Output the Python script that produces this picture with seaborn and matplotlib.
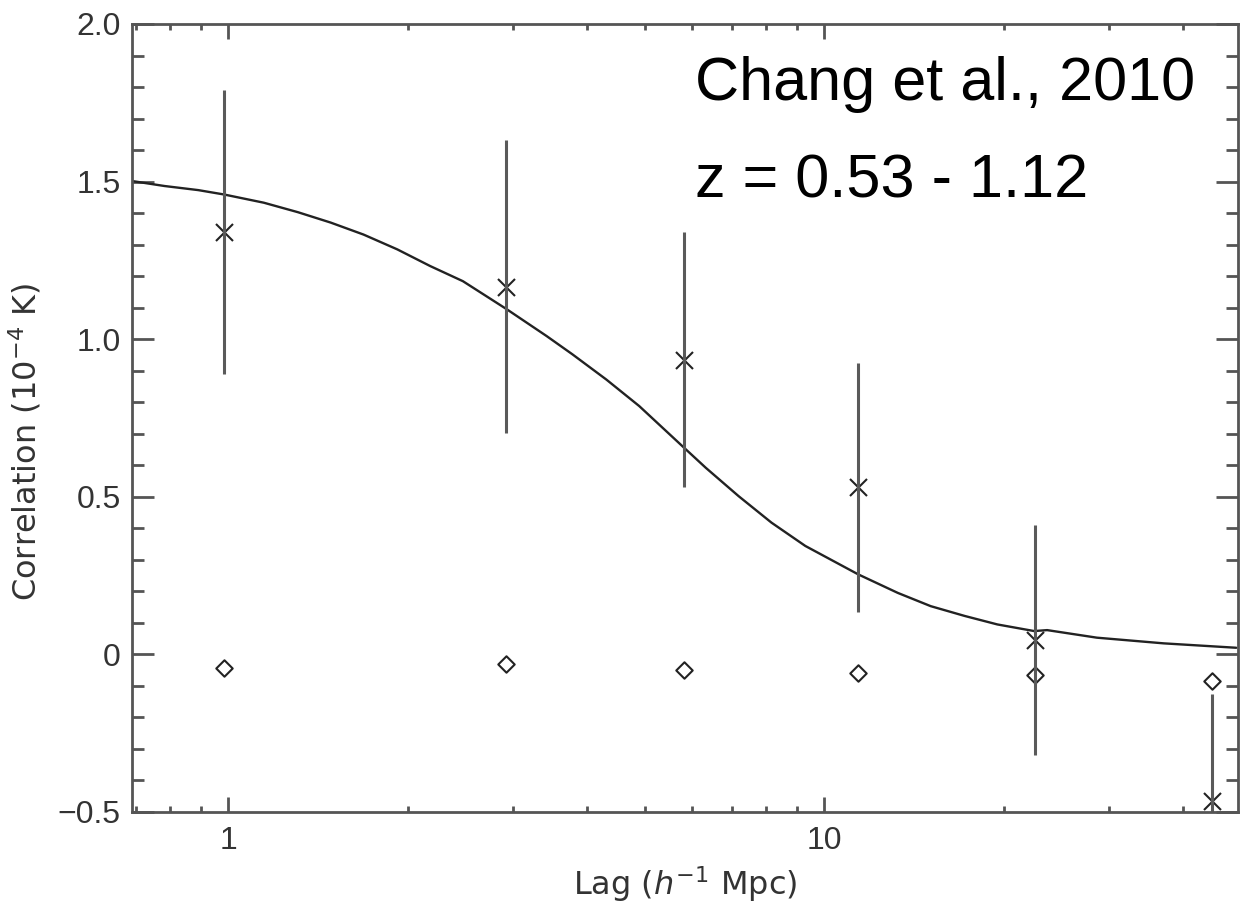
import numpy as np
import pandas as pd
import matplotlib
matplotlib.use("Agg")
import matplotlib.pyplot as plt
import seaborn as sns
from matplotlib.ticker import FixedLocator, LogLocator, NullFormatter

# Data
lag = [0.985, 2.93, 5.81, 11.4, 22.6, 44.7]
corr = [1.341, 1.167, 0.935, 0.530, 0.045, -0.466]
corr_err = [0.45, 0.465, 0.405, 0.395, 0.365, 0.34]
null_corr = [-0.044, -0.032, -0.051, -0.060, -0.066, -0.085]

# model curve, points
model_lag = [0.689, 0.782, 0.891, 0.985, 1.148, 1.309, 1.486, 1.687, 1.922,
             2.183, 2.477, 2.934, 3.422, 3.781, 4.310, 4.893, 5.817, 6.329,
             7.185, 8.157, 9.297, 11.40, 13.29, 15.09, 17.20, 19.52, 22.50,
             23.66, 28.67, 37.10, 49.11]
model_corr = [1.502, 1.486, 1.473, 1.459, 1.433, 1.403, 1.370, 1.332, 1.285,
              1.232, 1.184, 1.095, 1.010, 0.952, 0.872, 0.788, 0.656, 0.592,
              0.502, 0.418, 0.344, 0.254, 0.195, 0.153, 0.122, 0.095, 0.074,
              0.077, 0.053, 0.035, 0.021]

yticks = [-0.5, 0, 0.5, 1.0, 1.5, 2.0]
ytick_labels = ["\u22120.5", "0", "0.5", "1.0", "1.5", "2.0"]
xticks = [1, 10]
xtick_labels = ["1", "10"]

sns.set_style("ticks")
plt.rcParams['font.family'] = ['Liberation Sans', 'DejaVu Sans']
plt.rcParams['mathtext.fontset'] = 'custom'
plt.rcParams['mathtext.rm'] = 'DejaVu Sans'
plt.rcParams['mathtext.it'] = 'DejaVu Sans:italic'

fig = plt.figure(figsize=(12.42, 9.02), dpi=100)
ax = fig.add_axes([0.1063, 0.0998, 0.8907, 0.8736])

model_df = pd.DataFrame({"lag": model_lag, "corr": model_corr})
pts = pd.DataFrame({"lag": lag, "corr": corr, "null": null_corr})

sns.lineplot(data=model_df, x="lag", y="corr", ax=ax, color="#222222",
             lw=1.7, sort=False, estimator=None)
ax.errorbar(lag, corr, yerr=corr_err, fmt="none", ecolor="#5a5a5a",
            elinewidth=2.2, capsize=0)
sns.scatterplot(data=pts, x="lag", y="corr", ax=ax, marker="x", s=150,
                color="#222222", linewidth=1.5)
sns.scatterplot(data=pts, x="lag", y="null", ax=ax, marker="D", s=70,
                facecolor="white", edgecolor="#222222", linewidth=1.5)

ax.set_xscale("log")
ax.set_xlim(0.69, 49.5)
ax.set_ylim(-0.5, 2.0)

ax.xaxis.set_major_locator(FixedLocator(xticks))
ax.set_xticklabels(xtick_labels)
ax.xaxis.set_minor_locator(LogLocator(base=10, subs=np.arange(2, 10)))
ax.xaxis.set_minor_formatter(NullFormatter())
ax.yaxis.set_major_locator(FixedLocator(yticks))
ax.set_yticklabels(ytick_labels)
ax.yaxis.set_minor_locator(FixedLocator(np.arange(-0.5, 2.01, 0.1)))

for s in ax.spines.values():
    s.set_color("#555555")
    s.set_linewidth(2.0)

ax.tick_params(axis="both", which="both", direction="in", top=True, right=True,
               color="#555555", labelcolor="#333333", labelsize=23)
ax.tick_params(axis="y", which="major", length=16, width=2.0, pad=8)
ax.tick_params(axis="y", which="minor", length=8.5, width=2.0)
ax.tick_params(axis="x", which="major", length=11, width=2.0, pad=10)
ax.tick_params(axis="x", which="minor", length=4, width=2.0)

ax.set_xlabel(r"Lag ($h^{-1}$ Mpc)", fontsize=23, color="#333333",
              labelpad=6, family="DejaVu Sans")
ax.set_ylabel(r"Correlation (10$^{-4}$ K)", fontsize=23, color="#333333",
              labelpad=8, family="DejaVu Sans")
ax.yaxis.set_label_coords(-0.080, 0.47)

ax.text(0.509, 0.9036, "Chang et al., 2010", transform=ax.transAxes,
        fontsize=44, color="black", va="baseline", ha="left")
ax.text(0.509, 0.780, "z = 0.53 - 1.12", transform=ax.transAxes,
        fontsize=44, color="black", va="baseline", ha="left")

fig.savefig("out.png", dpi=100)
